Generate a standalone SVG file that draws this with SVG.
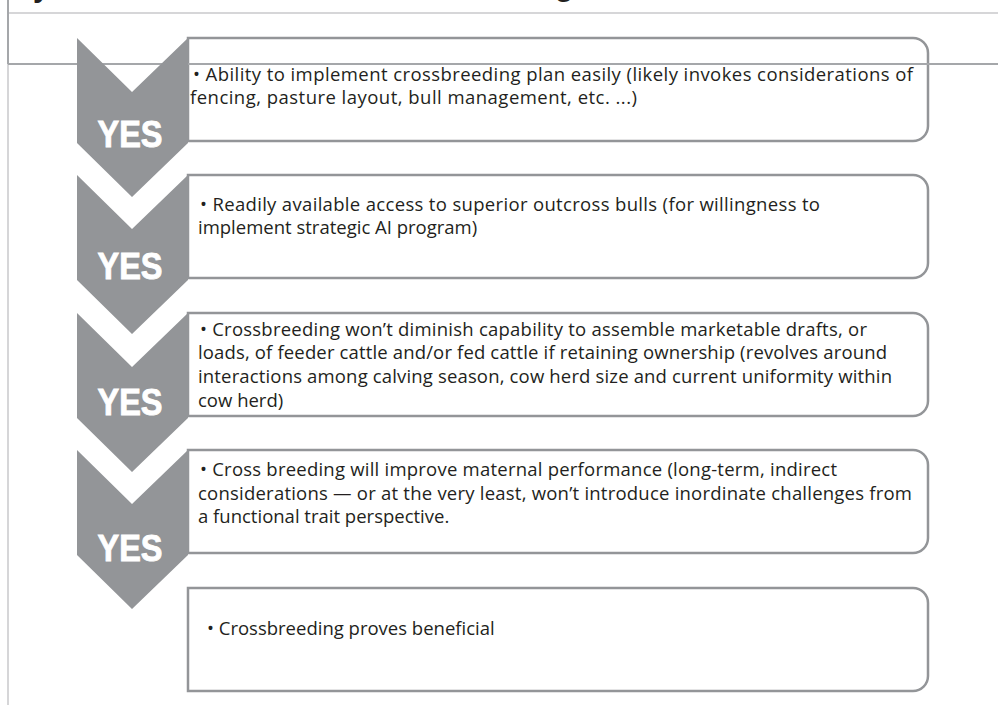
<svg xmlns="http://www.w3.org/2000/svg" width="998" height="705" viewBox="0 0 998 705">
  <style>
    .frame-light { stroke: #c9c9cb; stroke-width: 1.5; fill: none; }
    .frame-dark { stroke: #a5a7aa; stroke-width: 2; fill: none; }
    .box { fill: #ffffff; stroke: #939598; stroke-width: 2.5; }
    .chev { fill: #939598; }
    .yes { font-family: "Liberation Sans", Arial, sans-serif; font-weight: bold; font-size: 37px; fill: #ffffff; stroke: #ffffff; stroke-width: 0.9; text-anchor: middle; }
    .txt { font-family: "Open Sans", "Liberation Sans", Arial, sans-serif; font-size: 18.5px; font-weight: 500; fill: #231f20; }
    .title { font-family: "Liberation Sans", Arial, sans-serif; font-weight: bold; font-size: 30px; fill: #231f20; }
  </style>
  <rect width="998" height="705" fill="#ffffff"/>

  <!-- heading band, mostly outside the page -->
  <text class="title" x="33" y="-3">y</text>
  <text class="title" x="555" y="-4">g</text>

  <!-- outline frame -->
  <g id="frame">
    <line class="frame-light" x1="8" y1="13" x2="998" y2="13"/>
    <line class="frame-dark" x1="8" y1="0" x2="8" y2="64"/>
    <line class="frame-light" x1="8" y1="64" x2="8" y2="705"/>
  </g>

  <!-- statement boxes -->
  <g id="box1">
    <path class="box" d="M188,38 H913 A15,15 0 0 1 928,53 V126 A15,15 0 0 1 913,141 H188 Z"/>
  </g>
  <g id="box2">
    <path class="box" d="M188,175 H913 A15,15 0 0 1 928,190 V263 A15,15 0 0 1 913,278 H188 Z"/>
  </g>
  <g id="box3">
    <path class="box" d="M188,313 H913 A15,15 0 0 1 928,328 V401 A15,15 0 0 1 913,416 H188 Z"/>
  </g>
  <g id="box4">
    <path class="box" d="M188,450 H913 A15,15 0 0 1 928,465 V538 A15,15 0 0 1 913,553 H188 Z"/>
  </g>
  <g id="box5">
    <path class="box" d="M188,588 H913 A15,15 0 0 1 928,603 V676 A15,15 0 0 1 913,691 H188 Z"/>
  </g>

  <!-- rule running across the frame -->
  <line class="frame-dark" x1="8" y1="64" x2="998" y2="64"/>

  <!-- YES chevrons -->
  <g id="connectors">
    <g id="yes1">
      <polygon class="chev" points="77,38 132,92 188,38 188,143 132,197 77,143"/>
      <text class="yes" x="130" y="147" textLength="65" lengthAdjust="spacingAndGlyphs">YES</text>
    </g>
    <g id="yes2">
      <polygon class="chev" points="77,175 132,229 188,175 188,280 132,334 77,280"/>
      <text class="yes" x="130" y="279" textLength="65" lengthAdjust="spacingAndGlyphs">YES</text>
    </g>
    <g id="yes3">
      <polygon class="chev" points="77,313 132,367 188,313 188,418 132,472 77,418"/>
      <text class="yes" x="130" y="415" textLength="65" lengthAdjust="spacingAndGlyphs">YES</text>
    </g>
    <g id="yes4">
      <polygon class="chev" points="77,450 132,504 188,450 188,555 132,609 77,555"/>
      <text class="yes" x="130" y="561" textLength="65" lengthAdjust="spacingAndGlyphs">YES</text>
    </g>
  </g>

  <!-- box texts -->
  <g id="text1" class="txt">
    <text x="193" y="81" textLength="720">• Ability to implement crossbreeding plan easily (likely invokes considerations of</text>
    <text x="190" y="104" textLength="447">fencing, pasture layout, bull management, etc. ...)</text>
  </g>
  <g id="text2" class="txt">
    <text x="200" y="211" textLength="620">• Readily available access to superior outcross bulls (for willingness to</text>
    <text x="198" y="234">implement strategic AI program)</text>
  </g>
  <g id="text3" class="txt">
    <text x="200" y="336" textLength="667">• Crossbreeding won’t diminish capability to assemble marketable drafts, or</text>
    <text x="198" y="359" textLength="689">loads, of feeder cattle and/or fed cattle if retaining ownership (revolves around</text>
    <text x="198" y="383" textLength="694">interactions among calving season, cow herd size and current uniformity within</text>
    <text x="198" y="407">cow herd)</text>
  </g>
  <g id="text4" class="txt">
    <text x="200" y="476" textLength="637">• Cross breeding will improve maternal performance (long-term, indirect</text>
    <text x="198" y="500" textLength="714">considerations — or at the very least, won’t introduce inordinate challenges from</text>
    <text x="198" y="523">a functional trait perspective.</text>
  </g>
  <g id="text5" class="txt">
    <text x="207" y="635">• Crossbreeding proves beneficial</text>
  </g>
</svg>
